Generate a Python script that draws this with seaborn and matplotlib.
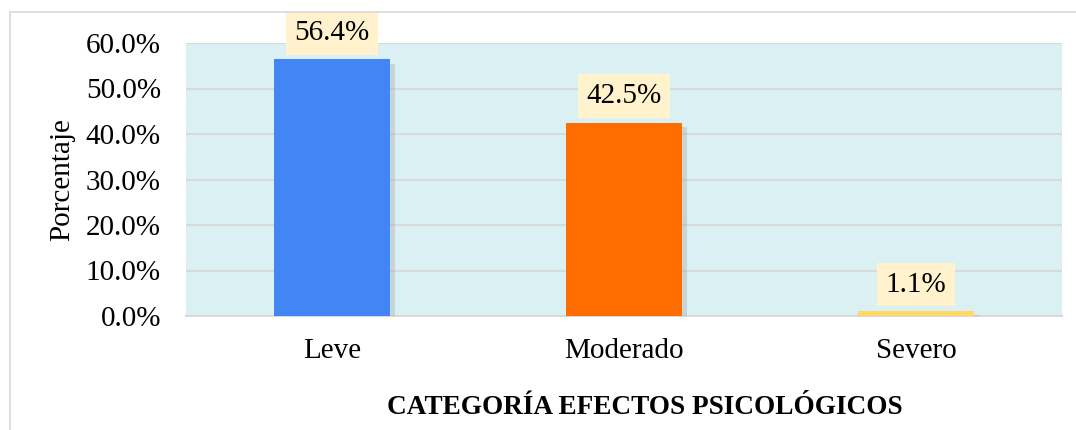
import numpy as np
import pandas as pd
import seaborn as sns
import matplotlib.pyplot as plt
import matplotlib.patheffects as pe
from matplotlib.patches import Rectangle

categorias = ["Leve", "Moderado", "Severo"]
porcentajes = [56.4, 42.5, 1.1]
colores = ["#4285F4", "#FF6D00", "#FFD966"]
yticks = [0, 10, 20, 30, 40, 50, 60]

df = pd.DataFrame({"categoria": categorias, "porcentaje": porcentajes})

sns.set_style("white")
plt.rcParams['font.family'] = ['Liberation Serif', 'DejaVu Serif']
plt.rcParams['text.color'] = 'black'
plt.rcParams['axes.labelcolor'] = 'black'
plt.rcParams['xtick.color'] = 'black'
plt.rcParams['ytick.color'] = 'black'

fig = plt.figure(figsize=(10.76, 4.30), dpi=100)
ax = fig.add_axes([186/1076, 1-316/430, (1062-186)/1076, (316-43)/430])

sns.barplot(data=df, x="categoria", y="porcentaje", hue="categoria",
            palette=colores, width=0.4, legend=False, ax=ax, saturation=1,
            edgecolor="none", linewidth=0)

for bar in ax.patches:
    bar.set_path_effects([pe.SimplePatchShadow(offset=(3, -3), shadow_rgbFace="#9a9a9a", alpha=0.3), pe.Normal()])
    bar.set_zorder(3)

ax.set_facecolor("#DAF0F2")
ax.set_ylim(0, 60)
ax.set_xlim(-0.5, 2.5)
ax.set_yticks(yticks)
ax.set_yticklabels([f"{v:.1f}%" for v in yticks], fontsize=21)
ax.tick_params(axis='x', labelsize=21, pad=16, length=0)
ax.tick_params(axis='y', length=0, pad=18)
ax.yaxis.grid(True, color="#D9D9D9", lw=1.5, zorder=0)
ax.set_axisbelow(True)
for s in ["top", "right", "left"]:
    ax.spines[s].set_visible(False)
ax.spines["bottom"].set_color("#D9D9D9")
ax.spines["bottom"].set_linewidth(1.5)

ax.set_ylabel("Porcentaje", fontsize=21, labelpad=8)
ax.set_xlabel("CATEGORÍA EFECTOS PSICOLÓGICOS", fontsize=19.6, fontweight="bold", va="center")
ax.xaxis.set_label_coords((645 - 186) / 876, -(407 - 316) / 273)

for i, v in enumerate(porcentajes):
    ax.annotate(f"{v}%", xy=(i, v), xytext=(0, 19), textcoords="offset points",
                ha="center", va="center", fontsize=21, annotation_clip=False,
                bbox=dict(boxstyle="square,pad=0.3", facecolor="#FFF2CC", edgecolor="none"),
                zorder=5)

fig.patches.append(Rectangle((10/1076, -0.05), 1.2, 1.05 - 12/430, transform=fig.transFigure,
                             fill=False, edgecolor="#D9D9D9", lw=1.2))

fig.savefig("out.png", dpi=100)
